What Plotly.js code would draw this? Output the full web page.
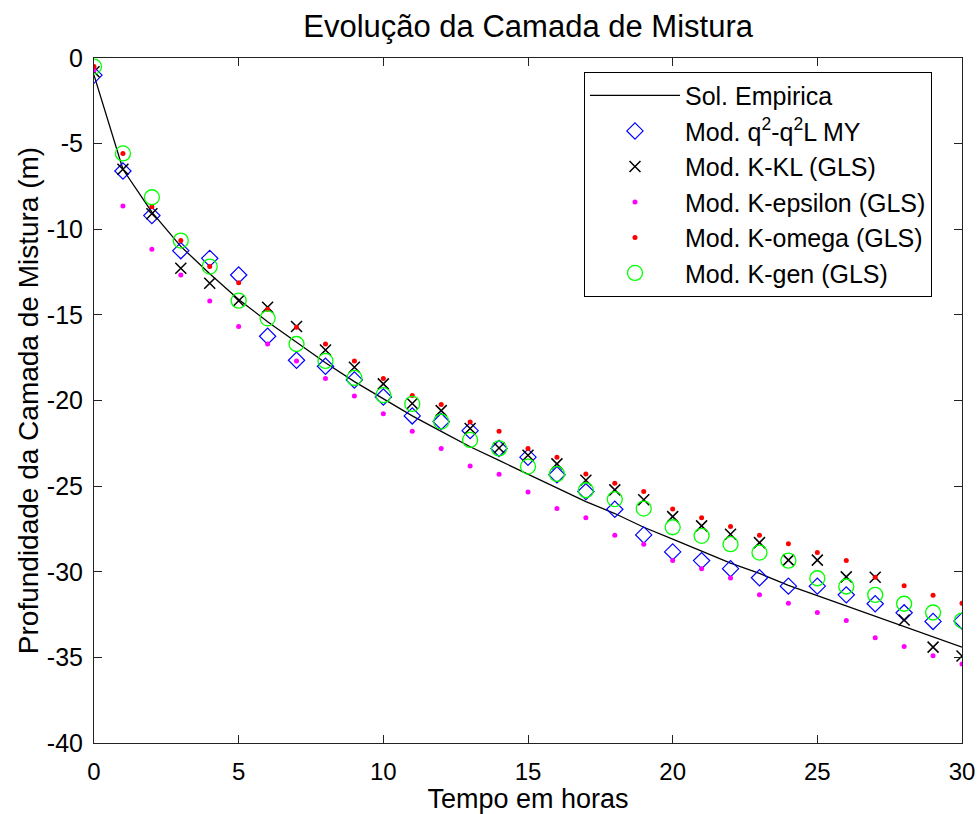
<!DOCTYPE html>
<html>
<head>
<meta charset="utf-8">
<script src="https://cdn.plot.ly/plotly-3.0.1.min.js"></script>
<style>html,body{margin:0;padding:0;background:#fff;}#chart{width:978px;height:814px;}</style>
</head>
<body>
<div id="chart"></div>
<script>
const hours = [0,1,2,3,4,5,6,7,8,9,10,11,12,13,14,15,16,17,18,19,20,21,22,23,24,25,26,27,28,29,30];
const solEmpirica = [-1.0,-6.5,-9.0,-11.0,-12.6,-14.1,-15.4,-16.6,-17.8,-18.9,-19.9,-20.9,-21.8,-22.7,-23.5,-24.3,-25.1,-25.9,-26.6,-27.4,-28.1,-28.8,-29.5,-30.1,-30.8,-31.4,-32.0,-32.6,-33.2,-33.8,-34.4];
const modMY = [-1.0,-6.6,-9.2,-11.25,-11.7,-12.67,-16.25,-17.65,-18.0,-18.8,-19.8,-20.9,-21.23,-21.76,-22.8,-23.31,-24.34,-25.32,-26.35,-27.85,-28.84,-29.35,-29.82,-30.35,-30.84,-30.84,-31.35,-31.87,-32.4,-32.9,-32.87];
const modKKL = [-0.8,-6.5,-9.1,-12.28,-13.15,-14.17,-14.56,-15.68,-17.05,-18.06,-19.03,-20.18,-20.59,-21.64,-22.77,-23.2,-23.7,-24.66,-25.22,-25.8,-26.78,-27.32,-27.81,-28.3,-29.32,-29.32,-30.3,-30.32,-32.82,-34.4,-34.92];
const modKeps = [-0.7,-8.64,-11.17,-12.67,-14.19,-15.68,-16.7,-17.7,-18.72,-19.73,-20.78,-21.8,-22.81,-23.82,-24.3,-25.34,-26.31,-26.85,-27.87,-28.39,-29.35,-29.83,-30.36,-31.35,-31.84,-32.38,-32.85,-33.86,-34.37,-34.91,-35.38];
const modKomega = [-0.5,-5.57,-8.68,-10.66,-12.18,-13.12,-14.67,-15.72,-16.7,-17.7,-18.72,-19.71,-20.24,-21.25,-21.8,-22.81,-23.31,-24.29,-24.83,-25.32,-26.33,-26.84,-27.36,-27.87,-28.37,-28.88,-29.35,-30.32,-30.82,-31.37,-31.84];
const modKgen = [-0.5,-5.57,-8.13,-10.66,-12.18,-14.17,-15.2,-16.7,-17.69,-18.68,-19.69,-20.2,-21.23,-22.3,-22.8,-23.86,-24.29,-25.24,-25.76,-26.31,-27.4,-27.9,-28.39,-28.88,-29.35,-30.38,-30.86,-31.35,-31.87,-32.38,-32.85];
const seriesNames = ['Sol. Empirica','Mod. q<sup>2</sup>-q<sup>2</sup>L MY','Mod. K-KL (GLS)','Mod. K-epsilon (GLS)','Mod. K-omega (GLS)','Mod. K-gen (GLS)'];
const xTickVals = [0,5,10,15,20,25,30];
const xTickText = ['0','5','10','15','20','25','30'];
const yTickVals = [0,-5,-10,-15,-20,-25,-30,-35,-40];
const yTickText = ['0','-5','-10','-15','-20','-25','-30','-35','-40'];

const traces = [
  {x:hours, y:solEmpirica, name:seriesNames[0], mode:'lines', line:{color:'#000000', width:1.3}},
  {x:hours, y:modMY, name:seriesNames[1], mode:'markers', marker:{symbol:'diamond-open', size:12.5, color:'#0000ff', line:{width:1.2, color:'#0000ff'}}},
  {x:hours, y:modKKL, name:seriesNames[2], mode:'markers', marker:{symbol:'x-thin-open', size:11, color:'#000000', line:{width:1.5, color:'#000000'}}},
  {x:hours, y:modKeps, name:seriesNames[3], mode:'markers', marker:{symbol:'circle', size:5, color:'#ff00ff'}},
  {x:hours, y:modKomega, name:seriesNames[4], mode:'markers', marker:{symbol:'circle', size:5, color:'#ff0000'}},
  {x:hours, y:modKgen, name:seriesNames[5], mode:'markers', marker:{symbol:'circle-open', size:15, color:'#00ff00', line:{width:1.3, color:'#00ff00'}}}
];

const fontFam = '"Liberation Sans", Arial, sans-serif';
const layout = {
  width:978, height:814,
  margin:{l:94, r:16, t:58, b:71},
  paper_bgcolor:'#ffffff', plot_bgcolor:'#ffffff',
  font:{family:fontFam, size:24, color:'#000000'},
  title:{text:'Evolução da Camada de Mistura', font:{family:fontFam, size:31, color:'#000'}, x:0.54, xanchor:'center', y:0.968, yanchor:'middle'},
  xaxis:{range:[0,30], tickmode:'array', tickvals:xTickVals, ticktext:xTickText, showgrid:false, zeroline:false, showline:true, linecolor:'#222', linewidth:1, mirror:'ticks', ticks:'inside', ticklen:8, tickcolor:'#222',
    tickfont:{size:24}, ticklabelstandoff:7, title:{text:'Tempo em horas', font:{size:27}, standoff:5}},
  yaxis:{range:[-40,0], tickmode:'array', tickvals:yTickVals, ticktext:yTickText, showgrid:false, zeroline:false, showline:true, linecolor:'#222', linewidth:1, mirror:'ticks', ticks:'inside', ticklen:8, tickcolor:'#222',
    tickfont:{size:25}, ticklabelstandoff:5, title:{text:'Profundidade da Camada de Mistura (m)', font:{size:28}, standoff:0}},
  showlegend:true,
  legend:{x:0.5645, y:0.98, xanchor:'left', yanchor:'top', bordercolor:'#000', borderwidth:1, bgcolor:'#fff', font:{size:25, family:fontFam}, tracegroupgap:0, itemwidth:90}
};
Plotly.newPlot('chart', traces, layout, {displayModeBar:false, staticPlot:true});
</script>
</body>
</html>
